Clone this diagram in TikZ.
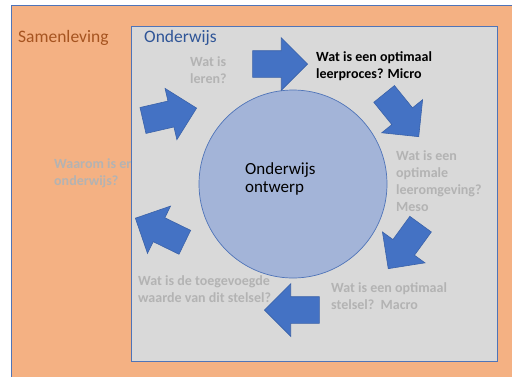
\documentclass[tikz,border=0pt]{standalone}
\usepackage{fontspec}
\setmainfont{Carlito}
\usetikzlibrary{shapes.arrows, positioning}
\definecolor{oranje}{HTML}{F4B183}
\definecolor{kader}{HTML}{4F74B8}
\definecolor{grijsvlak}{HTML}{D9D9D9}
\definecolor{cirkelblauw}{HTML}{A3B4D8}
\definecolor{pijlblauw}{HTML}{4472C4}
\definecolor{pijlrand}{HTML}{3B62A8}
\definecolor{vraaggrijs}{HTML}{B3B3B3}
\definecolor{bruin}{HTML}{A65420}
\definecolor{donkerblauw}{HTML}{2F5597}
\tikzset{
  vlak/.style={draw=kader, line width=0.8pt},
  titel/.style={font=\fontsize{17.5}{20}\selectfont, anchor=west, inner sep=0pt},
  vraag/.style={font=\fontsize{14}{16.8}\selectfont\bfseries, text=vraaggrijs,
                align=left, anchor=west, inner sep=0pt},
  blokpijl/.style={single arrow, draw=pijlrand, fill=pijlblauw, line width=0.6pt,
                   minimum height=55pt, inner xsep=0pt, inner ysep=13pt,
                   single arrow head extend=13pt, anchor=tip},
}

\begin{document}
\begin{tikzpicture}[x=1pt, y=1pt]
    \useasboundingbox (0,0) rectangle (512,-376);
    %% samenleving: oranje achtergrond
    \fill[white] (0,0) rectangle (512,-376);
    \filldraw[vlak, fill=oranje] (11,-5) rectangle (520,-390);
    \node[titel, text=bruin] (samenleving) at (18,-38) {Samenleving};
    \node[vraag] (waarom) at (54,-173.5) {Waarom is er\\onderwijs?};
    %% onderwijs: grijs vlak (dekt een deel van de vraag af)
    \filldraw[vlak, fill=grijsvlak] (131,-26) rectangle (497,-361);
    \node[titel, text=donkerblauw] (onderwijs) at (144,-38) {Onderwijs};
    %% kern
    \node[circle, draw=kader, fill=cirkelblauw, line width=0.7pt,
          minimum size=188pt, inner sep=0pt] (kern) at (293,-184) {};
    \node[font=\fontsize{17}{18.5}\selectfont, align=left, anchor=west,
          inner sep=0pt] (kerntekst) at (245,-179) {Onderwijs\\ontwerp};
    %% de cirkel van pijlen (geplaatst op de punt)
    \node[blokpijl, rotate=0]    (p1) at (308,-64)  {};
    \node[blokpijl, rotate=-51]  (p2) at (419,-137) {};
    \node[blokpijl, rotate=-126] (p3) at (388,-269) {};
    \node[blokpijl, rotate=180]  (p4) at (264,-310) {};
    \node[blokpijl, rotate=154]  (p5) at (135,-218) {};
    \node[blokpijl, rotate=13]   (p6) at (197,-108) {};
    %% vragen
    \node[vraag] (leren) at (190,-70.5) {Wat is\\leren?};
    \node[vraag, text=black] (micro) at (316,-66) {Wat is een optimaal\\leerproces? Micro};
    \node[vraag] (meso) at (396,-181) {Wat is een\\optimale\\leeromgeving?\\Meso};
    \node[vraag] (macro) at (331,-296.5) {Wat is een optimaal\\stelsel?\ \ Macro};
    \node[vraag] (waarde) at (138,-289.5) {Wat is de toegevoegde\\waarde van dit stelsel?};
\end{tikzpicture}
\end{document}
